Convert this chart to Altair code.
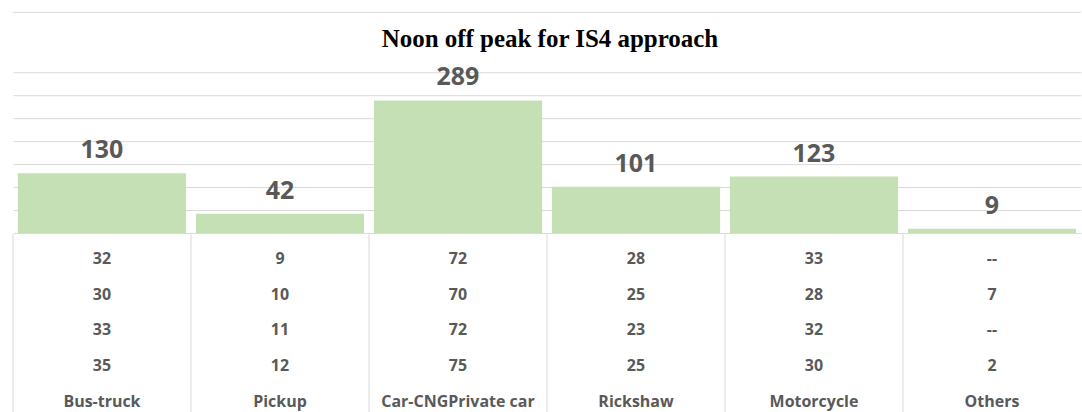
import altair as alt
import pandas as pd

# ---- data ----
categories = ["Bus-truck", "Pickup", "Car-CNGPrivate car", "Rickshaw", "Motorcycle", "Others"]
totals = [130, 42, 289, 101, 123, 9]
row1 = [32, 9, 72, 28, 33, None]
row2 = [30, 10, 70, 25, 28, 7]
row3 = [33, 11, 72, 23, 32, None]
row4 = [35, 12, 75, 25, 30, 2]
title_text = "Noon off peak for IS4 approach"
grid_values = [0, 50, 100, 150, 200, 250, 300, 350]
row_keys = ["r1", "r2", "r3", "r4", "name"]

# ---- layout ----
W = 1070
H_TOP = 221
H_TAB = 180
Y_MAX = 481
BAR_COLOR = "#C5E0B4"
TEXT_COLOR = "#595959"
LINE_COLOR = "#D9D9D9"
FONT = "Open Sans"

bars_df = pd.DataFrame({"cat": categories, "total": totals})

x_scale = alt.Scale(paddingInner=0, paddingOuter=0)
x_top = alt.X("cat:N", sort=categories, axis=None, scale=x_scale)
y_top = alt.Y(
    "total:Q",
    scale=alt.Scale(domain=[0, Y_MAX]),
    axis=alt.Axis(values=grid_values, labels=False, ticks=False, domain=False,
                  title=None, grid=True, gridColor=LINE_COLOR, gridWidth=1),
)

bars = alt.Chart(bars_df).mark_bar(
    color=BAR_COLOR, width=alt.RelativeBandSize(0.945)
).encode(x=x_top, y=y_top)

labels = alt.Chart(bars_df).mark_text(
    font=FONT, fontWeight="bold", fontSize=25, color=TEXT_COLOR,
    baseline="middle", dy=-23
).encode(x=x_top, y=y_top, text="total:Q")

title = alt.Chart(pd.DataFrame({"t": [title_text]})).mark_text(
    font="Liberation Serif", fontWeight="bold", fontSize=25, color="#000000",
    baseline="alphabetic", align="center"
).encode(text="t:N", x=alt.value(W / 2 + 3), y=alt.value(35))

top_line = alt.Chart(pd.DataFrame({"t": [0]})).mark_rule(
    color=LINE_COLOR, strokeWidth=1
).encode(x=alt.value(0), x2=alt.value(W), y=alt.value(0))

top = alt.layer(top_line, bars, labels, title).properties(width=W, height=H_TOP)

# ---- data table below the bars ----
recs = []
for i, c in enumerate(categories):
    for key, arr in zip(row_keys[:4], [row1, row2, row3, row4]):
        v = arr[i]
        recs.append({"cat": c, "row": key, "txt": "--" if v is None else str(v)})
    recs.append({"cat": c, "row": "name", "txt": c})
table_df = pd.DataFrame(recs)

x_tab = alt.X("cat:N", sort=categories, axis=None, scale=x_scale)

table_text = alt.Chart(table_df).mark_text(
    font=FONT, fontWeight="bold", fontSize=16, color=TEXT_COLOR, baseline="middle"
).encode(
    x=x_tab,
    y=alt.Y("row:N", sort=row_keys, axis=None,
            scale=alt.Scale(type="point", padding=0.514, align=0.676)),
    text="txt:N",
)

table_lines = alt.Chart(bars_df).mark_rule(color=LINE_COLOR, strokeWidth=1).encode(
    x=alt.X("cat:N", sort=categories, axis=None, scale=x_scale, bandPosition=0),
    y=alt.value(0),
    y2=alt.value(H_TAB),
)

table = alt.layer(table_lines, table_text).properties(width=W, height=H_TAB)

chart = alt.vconcat(top, table, spacing=0).properties(
    padding={"left": 12, "top": 11, "right": 0, "bottom": 0},
    background="#FFFFFF",
).configure_view(stroke=None)

chart.save("out.html", embed_options={"renderer": "svg", "actions": False})
